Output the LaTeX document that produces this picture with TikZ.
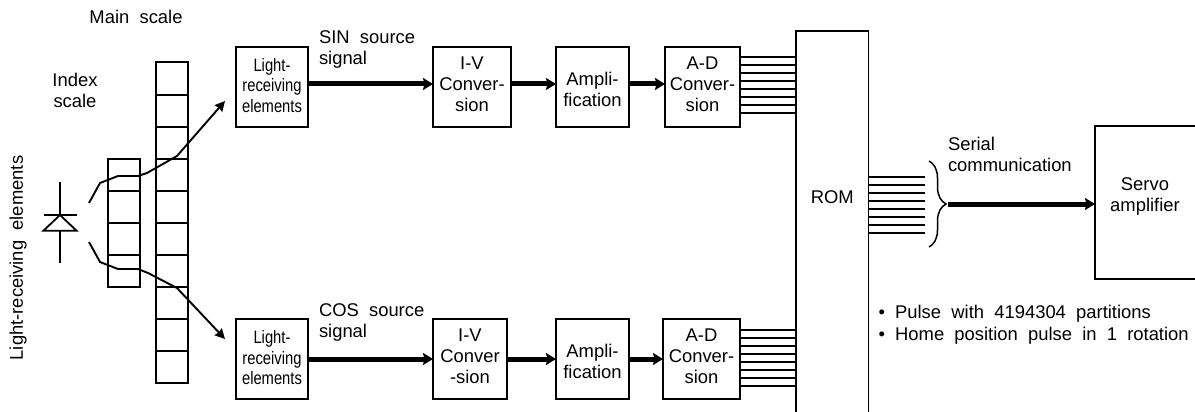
\documentclass[tikz,border=0pt]{standalone}
\usepackage{fontspec}
\setmainfont[WordSpace=2.0]{Liberation Sans}
\newfontfamily\narrowfont[FakeStretch=0.82]{Liberation Sans}
\usetikzlibrary{arrows.meta,decorations.pathreplacing}
\begin{document}
\begin{tikzpicture}[x=1pt,y=-1pt,
  every node/.style={font=\fontsize{18.4}{21}\selectfont,inner sep=0pt,outer sep=0pt},
  blockbox/.style={draw,line width=1.8pt,minimum height=80pt,align=center,text depth=6.5pt},
  ampbox/.style={draw,line width=1.8pt,minimum height=80pt,minimum width=73pt,align=center},
  sensorbox/.style={blockbox,minimum width=72.5pt,text depth=3pt,font=\narrowfont\fontsize{18}{20.5}\selectfont},
  scalebox/.style={draw,line width=1.8pt,minimum width=32.5pt},
  scalerule/.style={line width=1.8pt},
  busline/.style={line width=1.5pt},
  ray/.style={line width=1.9pt,-{Stealth[length=10pt,width=10pt,inset=1pt]}},
  signal/.style={line width=5pt,-{Stealth[length=10pt,width=12pt,inset=1.5pt]}}]
  \useasboundingbox (0,0) rectangle (1195,412);

  \node[rotate=90] (receiver) at (18,258) {Light-receiving elements};
  \node (mainlabel) at (136,17) {Main scale};
  \node[align=center] (indexlabel) at (75,90) {Index\\scale};
  \node[scalebox,minimum height=320.7pt] (mainscale) at (172,222.7) {};
  \node[scalebox,minimum height=128pt] (indexscale) at (124,222.7) {};
  \foreach \y in {95,127,159,190.7,222.7,255,287,319,351}
    \draw[scalerule] (mainscale.west |- 0,\y) -- (mainscale.east |- 0,\y);
  \foreach \y in {190.7,222.7,255}
    \draw[scalerule] (indexscale.west |- 0,\y) -- (indexscale.east |- 0,\y);

  \draw[line width=1.8pt] (60,182) -- (60,215);
  \draw[line width=1.8pt] (60,230.7) -- (60,263);
  \draw[line width=1.8pt] (43.5,215) -- (76.5,215);
  \draw[line width=1.8pt] (60,215) -- (43.5,230.7) -- (76.5,230.7) -- cycle;

  \node[sensorbox] (sensora) at (272,86.7) {Light-\\receiving\\elements};
  \node[sensorbox] (sensorb) at (272,359) {Light-\\receiving\\elements};
  \node[blockbox,minimum width=78pt] (iva) at (472,87) {I-V\\Conver-\\sion};
  \node[blockbox,minimum width=74pt] (ivb) at (470,359) {I-V\\Conver\\-sion};
  \node[ampbox] (ampa) at (592.5,87) {\rule{0pt}{18pt}Ampli-\\fication};
  \node[ampbox] (ampb) at (592.5,359) {\rule{0pt}{18pt}Ampli-\\fication};
  \node[blockbox,minimum width=75pt] (ada) at (702.5,87) {A-D\\Conver-\\sion};
  \node[blockbox,minimum width=77pt] (adb) at (701.5,359) {A-D\\Conver-\\sion};
  \node[minimum width=72.5pt] (rom) at (832.3,197) {ROM};
  \node[minimum width=100pt] (servo) at (1145,196) [align=center] {Servo\\amplifier};

  \node[align=left,anchor=west] (sinlabel) at (319,49) {SIN source\\signal};
  \node[align=left,anchor=west] (coslabel) at (319,322) {COS source\\signal};
  \node[align=left,anchor=west] (seriallabel) at (948,154) {Serial\\communication};
  \node[align=left,anchor=west,font=\fontsize{18.4}{22.5}\selectfont] (pulselabel) at (878.5,324.5)
    {\textbullet{} Pulse with 4194304 partitions\\\textbullet{} Home position pulse in 1 rotation};

  \draw[line width=1.8pt] (rom.west |- 0,412) -- (rom.west |- 0,31) -- (rom.east |- 0,31) -- (rom.east |- 0,412);
  \draw[line width=1.8pt] (1195,126) -- (servo.west |- 0,126) -- (servo.west |- 0,279) -- (1195,279);

  \coordinate (rayupstart) at (89,203);
  \coordinate (rayupend) at (225,101);
  \coordinate (raydownstart) at (89,242);
  \coordinate (raydownend) at (225,339);
  \draw[ray] (rayupstart) -- (100,183) -- (118,176) -- (138,176) -- (147,173) -- (177,156) -- (rayupend);
  \draw[ray] (raydownstart) -- (100,262) -- (118,269) -- (138,269) -- (148,273) -- (177,288) -- (raydownend);

  \draw[signal] (sensora.east |- 0,84) -- (iva.west |- 0,84);
  \draw[signal] (iva.east |- 0,84) -- (ampa.west |- 0,84);
  \draw[signal] (ampa.east |- 0,84) -- (ada.west |- 0,84);
  \draw[signal] (sensorb.east) -- (ivb.west);
  \draw[signal] (ivb.east) -- (ampb.west);
  \draw[signal] (ampb.east) -- (adb.west);

  \foreach \y in {57,65,73,81,89,97,105,113}
    \draw[busline] (ada.east |- 0,\y) -- (rom.west |- 0,\y);
  \foreach \y in {330,338,346,354,362,370,378,386}
    \draw[busline] (adb.east |- 0,\y) -- (rom.west |- 0,\y);

  \coordinate (busend) at (925,205);
  \foreach \y in {177,185,193,201,209,217,225,233}
    \draw[busline] (rom.east |- 0,\y) -- (busend |- 0,\y);

  \coordinate (bracetop) at (929,161);
  \coordinate (bracebottom) at (929,247);
  \coordinate (bracetip) at (948,204);
  \draw[line width=1.5pt,decorate,decoration={brace,amplitude=17pt}] (bracetop) -- (bracebottom);
  \draw[signal] (bracetip) -- (servo.west |- bracetip);
\end{tikzpicture}
\end{document}
